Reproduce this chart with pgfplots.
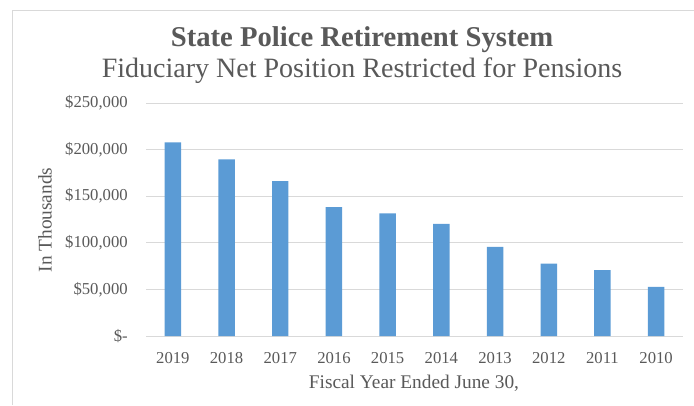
\documentclass[border=0pt]{standalone}
\usepackage{fontspec}
\setmainfont{Liberation Serif}
\usepackage{pgfplots}
\pgfplotsset{compat=1.18}
\definecolor{barblue}{HTML}{5B9BD5}
\definecolor{gridgray}{HTML}{D9D9D9}
\definecolor{textgray}{HTML}{595959}

\begin{document}
\begin{tikzpicture}
% page in pt, 1 px of the reference = 0.75pt
\useasboundingbox (0,0) rectangle (520.5pt,-303.75pt);
\draw[gridgray, line width=0.75pt] (9pt,-303.75pt) -- (9pt,-7.5pt) -- (520.5pt,-7.5pt);

\begin{axis}[
    at={(109.5pt,-252pt)},
    anchor=south west,
    scale only axis,
    width=402.75pt,
    height=174.75pt,
    xmin=-0.5, xmax=9.5,
    ymin=0, ymax=250000,
    enlargelimits=false,
    xtick={0,...,9},
    xticklabels={2019,2018,2017,2016,2015,2014,2013,2012,2011,2010},
    ytick={0,50000,100000,150000,200000,250000},
    yticklabels={{\$-},{\$50,000},{\$100,000},{\$150,000},{\$200,000},{\$250,000}},
    scaled y ticks=false,
    axis line style={draw=none},
    major tick style={draw=none},
    ymajorgrids=true,
    grid style={gridgray, line width=0.75pt},
    ticklabel style={font=\fontsize{12.5}{14}\selectfont, text=textgray, inner sep=0pt},
    yticklabel style={xshift=-13.5pt},
    xticklabel style={yshift=-12.4pt},
]
\addplot[ybar, bar width=0.307, fill=barblue, draw=none] coordinates {
(0,207800)
(1,189600)
(2,166300)
(3,138400)
(4,131500)
(5,120400)
(6,95700)
(7,77700)
(8,70600)
(9,52700)
};
\end{axis}

\node[text=textgray, font=\fontsize{21.5}{23}\selectfont\bfseries] at (271.5pt,-30pt) {State Police Retirement System};
\node[text=textgray, font=\fontsize{21}{23}\selectfont] at (271.5pt,-53pt) {Fiduciary Net Position Restricted for Pensions};
\node[text=textgray, font=\fontsize{14.5}{16}\selectfont] at (310.5pt,-287.25pt) {Fiscal Year Ended June 30,};
\node[text=textgray, font=\fontsize{14.5}{16}\selectfont, rotate=90] at (33.75pt,-165pt) {In Thousands};
\end{tikzpicture}
\end{document}
